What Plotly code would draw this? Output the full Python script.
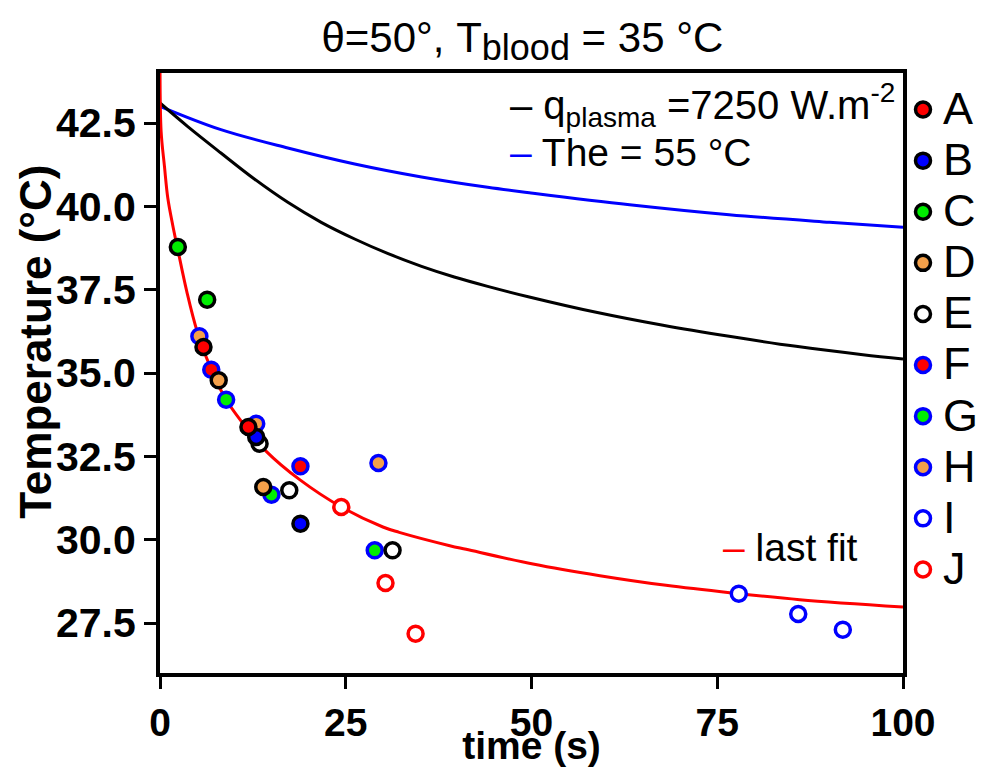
import plotly.graph_objects as go

# ---------------- data ----------------
# model curves
t_black = [0, 3.7, 8.2, 12.7, 17.2, 21.7, 26.2, 30.7, 35.2, 39.6, 44.1, 49.7, 58.7, 67.7, 76.6, 85.6, 94.6, 100]
T_black = [43.1, 42.4, 41.6, 40.82, 40.12, 39.52, 39.02, 38.58, 38.2, 37.88, 37.6, 37.28, 36.82, 36.43, 36.1, 35.8, 35.55, 35.42]

t_blue = [0, 8.2, 17.2, 26.2, 35.2, 44.1, 49.7, 63.2, 76.6, 90.1, 100]
T_blue = [43.0, 42.3, 41.75, 41.27, 40.88, 40.57, 40.41, 40.05, 39.75, 39.52, 39.37]

t_fit = [0, 0.15, 0.6, 1.05, 1.7, 2.4, 3.6, 5.0, 6.9, 8.9, 12.0, 14.3, 18.8, 24.4, 30.0, 32.2, 39.0,
         41.2, 50.2, 59.2, 68.1, 77.1, 86.1, 100]
T_fit = [44.6, 42.25, 41.2, 40.25, 39.45, 38.7, 37.45, 36.25, 35.1, 34.2, 33.25, 32.65, 31.8, 30.98, 30.38,
         30.22, 29.82, 29.71, 29.27, 28.92, 28.63, 28.4, 28.2, 27.98]

# measured points per series
series_names = ["A", "B", "C", "D", "E", "F", "G", "H", "I", "J"]
series_t = {
    "A": [5.85, 11.9],
    "B": [12.95, 18.9],
    "C": [2.4, 6.35],
    "D": [7.9, 13.9],
    "E": [13.4, 17.4, 31.3],
    "F": [6.9, 18.9],
    "G": [8.9, 15.0, 28.9],
    "H": [5.3, 12.95, 29.4],
    "I": [77.9, 85.9, 91.9],
    "J": [24.4, 30.35, 34.4],
}
series_T = {
    "A": [35.78, 33.38],
    "B": [33.08, 30.48],
    "C": [38.78, 37.2],
    "D": [34.78, 31.58],
    "E": [32.88, 31.48, 29.68],
    "F": [35.1, 32.2],
    "G": [34.2, 31.35, 29.68],
    "H": [36.1, 33.48, 32.3],
    "I": [28.38, 27.77, 27.3],
    "J": [30.98, 28.7, 27.18],
}
series_fill = {"A": "#ff0000", "B": "#0000ff", "C": "#00ee00", "D": "#f4a04a", "E": "#ffffff",
               "F": "#ff0000", "G": "#00ee00", "H": "#f4a04a", "I": "#ffffff", "J": "#ffffff"}
series_edge = {"A": "#000000", "B": "#000000", "C": "#000000", "D": "#000000", "E": "#000000",
               "F": "#0000ff", "G": "#0000ff", "H": "#0000ff", "I": "#0000ff", "J": "#ff0000"}

x_ticks = [0, 25, 50, 75, 100]
y_ticks = [27.5, 30.0, 32.5, 35.0, 37.5, 40.0, 42.5]

FONT = "Liberation Sans, Arial, sans-serif"

fig = go.Figure()

fig.add_trace(go.Scatter(x=t_blue, y=T_blue, mode="lines", line=dict(color="#0000ff", width=3, shape="spline"),
                         showlegend=False))
fig.add_trace(go.Scatter(x=t_black, y=T_black, mode="lines", line=dict(color="#000000", width=3, shape="spline"),
                         showlegend=False))
fig.add_trace(go.Scatter(x=t_fit, y=T_fit, mode="lines", line=dict(color="#ff0000", width=3, shape="spline"),
                         showlegend=False))

for rank, name in reversed(list(enumerate(series_names))):
    fig.add_trace(go.Scatter(
        x=series_t[name], y=series_T[name], mode="markers",
        name=f"<span style='font-size:45px'>{name}</span>",
        legendrank=rank + 1,
        marker=dict(size=15, color=series_fill[name], line=dict(color=series_edge[name], width=3.5)),
        cliponaxis=False,
    ))

# the page body has an 8px margin, so the figure is 8px smaller than the window
fig.update_layout(
    width=976, height=759,
    paper_bgcolor="white", plot_bgcolor="white",
    margin=dict(l=152, r=81, t=65, b=94, autoexpand=False),
    font=dict(family=FONT, color="black"),
    title=dict(text="θ=50°, T<sub><span style='font-size:36px'>blood</span></sub> = 35 °C",
               x=0.527, xanchor="center", y=0.962, yanchor="middle",
               font=dict(size=42, family=FONT)),
    showlegend=True,
    legend=dict(x=1.0, xanchor="left", y=0.99, yanchor="top", traceorder="normal",
                font=dict(size=37, family=FONT), itemsizing="trace",
                bgcolor="rgba(0,0,0,0)", borderwidth=0),
    xaxis=dict(range=[0, 100], tickvals=x_ticks, ticktext=[str(v) for v in x_ticks],
               showgrid=False, zeroline=False, showline=True, linecolor="black", linewidth=4, mirror=True,
               ticks="outside", ticklen=12, tickwidth=3, tickcolor="black",
               tickfont=dict(size=39, family=FONT, weight="bold"),
               title=dict(text="<b>time (s)</b>", font=dict(size=39, family=FONT), standoff=2),
               automargin=False),
    yaxis=dict(range=[26, 44], tickvals=y_ticks, ticktext=[f"{v:.1f}" for v in y_ticks],
               showgrid=False, zeroline=False, showline=True, linecolor="black", linewidth=4, mirror=True,
               ticks="outside", ticklen=12, tickwidth=3, tickcolor="black",
               tickfont=dict(size=41, family=FONT, weight="bold"),
               automargin=False),
    annotations=[
        dict(xref="paper", yref="paper", x=-0.1669, y=0.552, xanchor="center", yanchor="middle",
             showarrow=False, textangle=-90,
             text="<b>Temperature (°C)</b>", font=dict(size=44, family=FONT, color="black")),
        dict(xref="paper", yref="paper", x=0.468, y=0.947, xanchor="left", yanchor="middle", showarrow=False,
             text="– q<sub>plasma</sub> =7250 W.m<sup>-2</sup>", font=dict(size=40, family=FONT, color="black")),
        dict(xref="paper", yref="paper", x=0.468, y=0.868, xanchor="left", yanchor="middle", showarrow=False,
             text="<span style='color:#0000ff'>–</span> The = 55 °C", font=dict(size=39, family=FONT, color="black")),
        dict(xref="paper", yref="paper", x=0.755, y=0.21, xanchor="left", yanchor="middle", showarrow=False,
             text="<span style='color:#ff0000'>–</span> last fit", font=dict(size=39, family=FONT, color="black")),
    ],
)

fig.write_html("out.html")
